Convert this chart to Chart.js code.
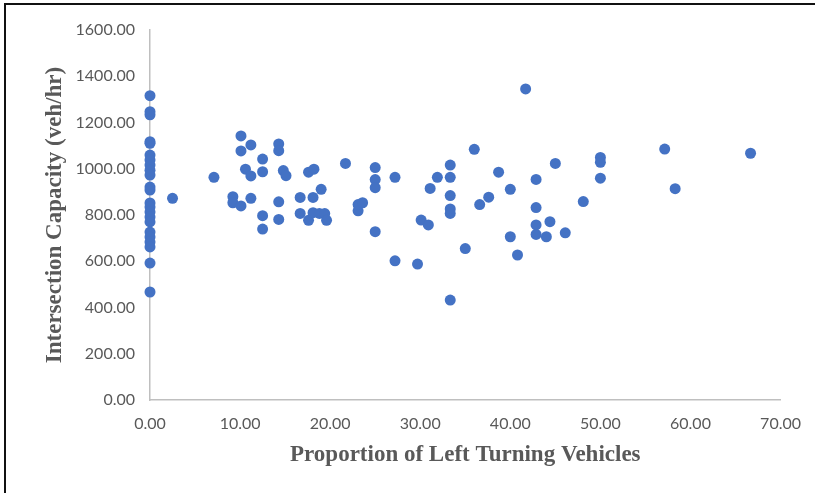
<!DOCTYPE html>
<html>
<head>
<meta charset="utf-8">
<script src="https://cdn.jsdelivr.net/npm/chart.js@4/dist/chart.umd.min.js"></script>
<style>
  html, body { margin: 0; padding: 0; background: #fff; }
  #wrap { position: relative; width: 815px; height: 493px; }
  #frame { position: absolute; left: 4px; top: 3px; right: 0; bottom: 0;
           border-top: 2px solid #111; border-left: 2px solid #111; pointer-events: none; }
</style>
</head>
<body>
<div id="wrap">
  <canvas id="c" width="815" height="493"></canvas>
  <div id="frame"></div>
</div>
<script>
// Intersections with no left-turning traffic (proportion = 0)
const zeroShareCapacity = [1316, 1247, 1233, 1117, 1110, 1059, 1038, 1016, 994, 973,
  921, 908, 852, 835, 813, 791, 770, 726, 705, 683, 662, 592, 467];

// Remaining intersections: left-turn proportion (%) and capacity (veh/hr)
const leftTurnShare = [2.5, 7.1, 10.1, 11.2, 10.1, 12.5, 10.6, 11.2, 12.5, 9.2,
  9.2, 10.1, 11.2, 12.5, 12.5, 14.29, 14.29, 14.8, 15.1, 17.6,
  18.2, 21.7, 25.0, 25.0, 25.0, 27.2, 19.0, 16.67, 18.1, 14.29,
  14.29, 16.67, 17.6, 18.1, 18.8, 19.4, 19.6, 23.1, 23.1, 23.6,
  25.0, 27.2, 29.7, 36.0, 33.33, 33.33, 31.9, 31.1, 33.33, 33.33,
  33.33, 38.7, 40.0, 37.6, 36.6, 30.1, 30.9, 40.0, 35.0, 40.8,
  33.33, 41.7, 45.0, 50.0, 50.0, 50.0, 42.86, 48.1, 42.86, 42.86,
  44.4, 42.86, 44.0, 46.1, 57.14, 58.3, 66.67];
const capacity = [872, 963, 1142, 1103, 1077, 1042, 998, 969, 987, 879,
  853, 839, 872, 797, 739, 1107, 1078, 992, 970, 985,
  998, 1023, 1005, 953, 918, 963, 911, 876, 876, 857,
  781, 807, 777, 810, 807, 806, 777, 818, 845, 853,
  728, 602, 588, 1084, 1016, 963, 963, 915, 884, 826,
  807, 985, 911, 877, 845, 778, 757, 706, 655, 627,
  432, 1345, 1023, 1049, 1028, 959, 954, 858, 832, 757,
  771, 716, 706, 723, 1085, 914, 1067];

const xTicks = [0, 10, 20, 30, 40, 50, 60, 70];
const yTicks = [0, 200, 400, 600, 800, 1000, 1200, 1400, 1600];

const points = zeroShareCapacity.map(v => ({ x: 0, y: v }))
  .concat(leftTurnShare.map((s, i) => ({ x: s, y: capacity[i] })));

const tickFont = { family: 'Lato, "Liberation Sans", sans-serif', size: 16 };
const titleFont = { family: '"Liberation Serif", "Times New Roman", serif', size: 23, weight: 'bold' };
const grey = '#595959';
const axisLine = '#BFBFBF';

new Chart(document.getElementById('c'), {
  type: 'scatter',
  data: {
    datasets: [{
      data: points,
      backgroundColor: '#4472C4',
      borderWidth: 0,
      pointRadius: 5.5,
      pointHoverRadius: 5.5,
      clip: false
    }]
  },
  options: {
    responsive: false,
    animation: false,
    layout: { padding: { left: 37, right: 34, top: 30, bottom: 20 } },
    plugins: { legend: { display: false }, tooltip: { enabled: false } },
    scales: {
      x: {
        type: 'linear',
        min: 0, max: 70,
        afterBuildTicks: s => { s.ticks = xTicks.map(v => ({ value: v })); },
        afterFit: s => { s.height = 73; },
        grid: { display: false, drawTicks: false },
        border: { display: true, color: axisLine, width: 1.5 },
        ticks: { color: grey, font: tickFont, padding: 14, maxRotation: 0,
                 callback: v => Number(v).toFixed(2) },
        title: { display: true, text: 'Proportion of Left Turning Vehicles',
                 color: grey, font: titleFont, padding: { top: 4, bottom: 4 } }
      },
      y: {
        type: 'linear',
        min: 0, max: 1600,
        afterBuildTicks: s => { s.ticks = yTicks.map(v => ({ value: v })); },
        afterFit: s => { s.width = 113; },
        grid: { display: false, drawTicks: false },
        border: { display: true, color: axisLine, width: 1.5 },
        ticks: { color: grey, font: tickFont, padding: 15,
                 callback: v => Number(v).toFixed(2) },
        title: { display: true, text: 'Intersection Capacity (veh/hr)',
                 color: grey, font: titleFont, padding: { top: 4, bottom: 4 } }
      }
    }
  }
});
</script>
</body>
</html>
